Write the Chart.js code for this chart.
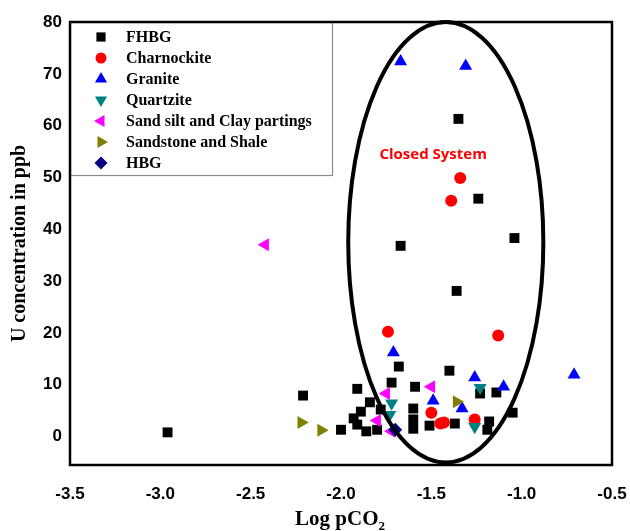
<!DOCTYPE html>
<html>
<head>
<meta charset="utf-8">
<script src="https://cdn.jsdelivr.net/npm/chart.js@4.4.1/dist/chart.umd.min.js"></script>
<style>
html, body { margin: 0; padding: 0; background: #fff; }
</style>
</head>
<body>
<canvas id="chart" width="630" height="531"></canvas>
<script>
// values
var seriesNames = ["FHBG", "Charnockite", "Granite", "Quartzite",
  "Sand silt and Clay partings", "Sandstone and Shale", "HBG"];
var seriesColors = ["#000000", "#ff0000", "#0000ff", "#008080", "#ff00ff", "#808000", "#000080"];

var fhbgX = [-2.96, -2.21, -2.00, -1.91, -1.84, -1.89, -1.93, -1.91, -1.86, -1.80, -1.78, -1.72,
  -1.68, -1.67, -1.59, -1.60, -1.60, -1.60, -1.51, -1.40, -1.37, -1.35, -1.36, -1.24, -1.04,
  -1.23, -1.14, -1.05, -1.18, -1.19];
var fhbgY = [0.8, 7.9, 1.3, 9.2, 6.6, 4.8, 3.5, 2.3, 1.0, 1.3, 5.2, 10.4,
  13.5, 36.8, 9.6, 5.4, 3.3, 1.5, 2.1, 12.7, 2.5, 61.3, 28.1, 45.9, 38.3,
  8.3, 8.5, 4.6, 2.9, 1.3];

var charnX = [-1.74, -1.13, -1.34, -1.39, -1.50, -1.45, -1.43, -1.26];
var charnY = [20.2, 19.5, 49.9, 45.5, 4.6, 2.5, 2.7, 3.3];

var graniteX = [-1.67, -1.31, -1.71, -0.71, -1.26, -1.10, -1.49, -1.33];
var graniteY = [72.4, 71.5, 16.2, 11.9, 11.4, 9.6, 6.9, 5.4];

var quartzX = [-1.23, -1.72, -1.73, -1.26];
var quartzY = [9.4, 6.4, 4.2, 1.9];

var sandX = [-2.42, -1.50, -1.75, -1.80, -1.72];
var sandY = [37.0, 9.6, 8.3, 3.1, 1.0];

var shaleX = [-2.22, -2.11, -1.36];
var shaleY = [2.7, 1.2, 6.7];

var hbgX = [-1.70];
var hbgY = [1.3];

var xTicks = [-3.5, -3.0, -2.5, -2.0, -1.5, -1.0, -0.5];
var yTicks = [0, 10, 20, 30, 40, 50, 60, 70, 80];

// closed system ellipse, in data units
var ellipseCenter = [-1.42, 37.5];
var ellipseRadii = [0.54, 42.5];

var markerStyles = ["rect", "circle", "triangle", "triangle", "triangle", "triangle", "rectRot"];
var markerRotations = [0, 0, 0, 180, 270, 90, 0];
var markerRadii = [7, 6, 7.5, 7.5, 7.5, 7.5, 7];

var zip = function(xs, ys) {
  var out = [];
  for (var i = 0; i < xs.length; i++) out.push({x: xs[i], y: ys[i]});
  return out;
}

var allX = [fhbgX, charnX, graniteX, quartzX, sandX, shaleX, hbgX];
var allY = [fhbgY, charnY, graniteY, quartzY, sandY, shaleY, hbgY];

var datasets = seriesNames.map(function(name, i) {
  return {
    label: name,
    data: zip(allX[i], allY[i]),
    pointStyle: markerStyles[i],
    rotation: markerRotations[i],
    pointRadius: markerRadii[i],
    pointHoverRadius: markerRadii[i],
    backgroundColor: seriesColors[i],
    borderColor: seriesColors[i],
    borderWidth: 0,
    order: seriesNames.length - i
  };
});

var drawMarker = function(ctx, style, rot, x, y, r, color) {
  ctx.save();
  ctx.fillStyle = color;
  ctx.beginPath();
  if (style == "circle") {
    ctx.arc(x, y, r, 0, Math.PI * 2);
  } else if (style == "rect") {
    var s = r * Math.SQRT1_2;
    ctx.rect(x - s, y - s, 2 * s, 2 * s);
  } else if (style == "rectRot") {
    ctx.moveTo(x, y - r); ctx.lineTo(x + r, y); ctx.lineTo(x, y + r); ctx.lineTo(x - r, y);
  } else {
    var a = rot * Math.PI / 180;
    for (var k = 0; k < 3; k++) {
      var px = x + Math.sin(a) * r, py = y - Math.cos(a) * r;
      if (k == 0) ctx.moveTo(px, py); else ctx.lineTo(px, py);
      a += Math.PI * 2 / 3;
    }
  }
  ctx.closePath();
  ctx.fill();
  ctx.restore();
}

var extras = {
  id: "extras",
  afterDatasetsDraw: function(chart) {
    var ctx = chart.ctx, xs = chart.scales.x, ys = chart.scales.y;
    var area = chart.chartArea;
    // ellipse
    var cx = xs.getPixelForValue(ellipseCenter[0]);
    var cy = ys.getPixelForValue(ellipseCenter[1]);
    var rx = Math.abs(xs.getPixelForValue(ellipseCenter[0] + ellipseRadii[0]) - cx);
    var ry = Math.abs(ys.getPixelForValue(ellipseCenter[1] + ellipseRadii[1]) - cy);
    ctx.save();
    ctx.strokeStyle = "#000";
    ctx.lineWidth = 4;
    ctx.beginPath();
    ctx.ellipse(cx, cy, rx, ry, 0, 0, Math.PI * 2);
    ctx.stroke();
    // label
    ctx.fillStyle = "#ff0000";
    ctx.font = "bold 15px 'Open Sans'";
    ctx.textAlign = "center";
    ctx.textBaseline = "middle";
    ctx.fillText("Closed System", xs.getPixelForValue(-1.49), ys.getPixelForValue(54.3));

    // legend box
    var lx = area.left, ly = area.top, lw = 262, lh = 153;
    ctx.fillStyle = "#fff";
    ctx.fillRect(lx, ly, lw, lh);
    ctx.strokeStyle = "#8c8c8c";
    ctx.lineWidth = 1.2;
    ctx.strokeRect(lx + 0.5, ly + 0.5, lw, lh);
    ctx.font = "bold 16px 'Liberation Serif'";
    ctx.textAlign = "left";
    ctx.fillStyle = "#000";
    for (var i = 0; i < seriesNames.length; i++) {
      var rowY = ly + 15 + i * 21;
      drawMarker(ctx, markerStyles[i], markerRotations[i], lx + 31, rowY, markerRadii[i] - 0.5, seriesColors[i]);
      ctx.fillStyle = "#000";
      ctx.fillText(seriesNames[i], lx + 56, rowY + 1);
    }

    // frame
    ctx.strokeStyle = "#000";
    ctx.lineWidth = 2.5;
    ctx.strokeRect(area.left, area.top, area.right - area.left, area.bottom - area.top);

    // x title with subscript
    ctx.fillStyle = "#000";
    ctx.textBaseline = "alphabetic";
    ctx.font = "bold 21px 'Liberation Serif'";
    var main = "Log pCO";
    var w1 = ctx.measureText(main).width;
    ctx.font = "bold 13px 'Liberation Serif'";
    var w2 = ctx.measureText("2").width;
    var start = 340 - (w1 + w2) / 2;
    ctx.font = "bold 21px 'Liberation Serif'";
    ctx.fillText(main, start, 525);
    ctx.font = "bold 13px 'Liberation Serif'";
    ctx.fillText("2", start + w1, 530);
    ctx.restore();
  }
};

var canvas = document.getElementById("chart");
new Chart(canvas, {
  type: "scatter",
  data: { datasets: datasets },
  options: {
    responsive: false,
    animation: false,
    events: [],
    layout: { padding: { left: 0, right: 18, top: 22, bottom: 0 } },
    plugins: { legend: { display: false }, tooltip: { enabled: false } },
    scales: {
      x: {
        type: "linear",
        min: -3.5,
        max: -0.5,
        grid: { display: false, drawTicks: false },
        border: { display: false },
        afterBuildTicks: function(axis) { axis.ticks = xTicks.map(function(v) { return {value: v}; }); },
        afterFit: function(axis) {
          axis.height = 66;
          axis.paddingLeft = 0;
          axis.paddingRight = 0;
        },
        ticks: {
          padding: 19,
          color: "#000",
          font: { family: "'Liberation Sans'", weight: "bold", size: 17 },
          callback: function(v) { return v.toFixed(1); }
        }
      },
      y: {
        type: "linear",
        min: -5.5,
        max: 80,
        grid: { display: false, drawTicks: false },
        border: { display: false },
        afterBuildTicks: function(axis) { axis.ticks = yTicks.map(function(v) { return {value: v}; }); },
        afterFit: function(axis) {
          axis.width = 70;
          axis.paddingTop = 0;
          axis.paddingBottom = 0;
        },
        ticks: {
          padding: 8,
          color: "#000",
          font: { family: "'Liberation Sans'", weight: "bold", size: 17 }
        },
        title: {
          display: true,
          text: "U concentration in ppb",
          color: "#000",
          padding: { top: 8, bottom: 0 },
          font: { family: "'Liberation Serif'", weight: "bold", size: 20 }
        }
      }
    }
  },
  plugins: [extras]
});
</script>
</body>
</html>
